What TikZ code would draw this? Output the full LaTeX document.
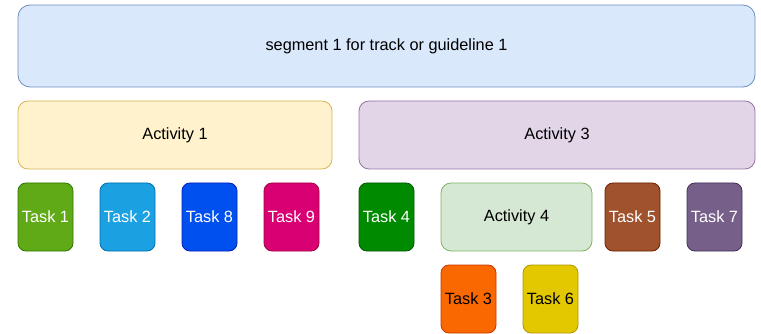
\documentclass[tikz,border=0pt]{standalone}
\usepackage{fontspec}
\setmainfont{Liberation Sans}
\begin{document}
\begin{tikzpicture}[x=1pt,y=-1pt,
  box/.style={draw, line width=0.8pt, inner sep=0pt, font=\fontsize{16.3}{19}\selectfont},
  taskbox/.style={box, minimum width=55pt, minimum height=68pt, rounded corners=8pt, text=white},
  actbox/.style={box, minimum height=68pt, rounded corners=10pt, text=black}]
\definecolor{segF}{HTML}{DAE8FC}\definecolor{segS}{HTML}{6C8EBF}
\definecolor{a1F}{HTML}{FFF2CC}\definecolor{a1S}{HTML}{D6B656}
\definecolor{a3F}{HTML}{E1D5E7}\definecolor{a3S}{HTML}{9673A6}
\definecolor{a4F}{HTML}{D5E8D4}\definecolor{a4S}{HTML}{82B366}
\definecolor{t1F}{HTML}{60A917}\definecolor{t1S}{HTML}{2D7600}
\definecolor{t2F}{HTML}{1BA1E2}\definecolor{t2S}{HTML}{006EAF}
\definecolor{t8F}{HTML}{0050EF}\definecolor{t8S}{HTML}{001DBC}
\definecolor{t9F}{HTML}{D80073}\definecolor{t9S}{HTML}{A50040}
\definecolor{t4F}{HTML}{008A00}\definecolor{t4S}{HTML}{005700}
\definecolor{t5F}{HTML}{A0522D}\definecolor{t5S}{HTML}{6D1F00}
\definecolor{t7F}{HTML}{76608A}\definecolor{t7S}{HTML}{432D57}
\definecolor{t3F}{HTML}{FA6800}\definecolor{t3S}{HTML}{C73500}
\definecolor{t6F}{HTML}{E3C800}\definecolor{t6S}{HTML}{B09500}
\useasboundingbox (0,0) rectangle (761,334);
\node[box, fill=segF, draw=segS, minimum width=737pt, minimum height=82pt, rounded corners=12pt] (seg) at (386.5,46) {segment 1 for track or guideline 1};
\node[actbox, fill=a1F, draw=a1S, minimum width=314pt] (act1) at (175,135) {Activity 1};
\node[actbox, fill=a3F, draw=a3S, minimum width=396pt] (act3) at (557,135) {Activity 3};
\node[actbox, fill=a4F, draw=a4S, minimum width=151pt] (act4) at (516.5,217) {Activity 4};
\node[taskbox, fill=t1F, draw=t1S] (t1) at (45.5,217) {Task 1};
\node[taskbox, fill=t2F, draw=t2S] (t2) at (127.5,217) {Task 2};
\node[taskbox, fill=t8F, draw=t8S] (t8) at (209.5,217) {Task 8};
\node[taskbox, fill=t9F, draw=t9S] (t9) at (291.5,217) {Task 9};
\node[taskbox, fill=t4F, draw=t4S] (t4) at (386.5,217) {Task 4};
\node[taskbox, fill=t5F, draw=t5S] (t5) at (632.5,217) {Task 5};
\node[taskbox, fill=t7F, draw=t7S] (t7) at (714.5,217) {Task 7};
\node[taskbox, fill=t3F, draw=t3S, text=black] (t3) at (468.5,299) {Task 3};
\node[taskbox, fill=t6F, draw=t6S, text=black] (t6) at (550.5,299) {Task 6};
\end{tikzpicture}
\end{document}
